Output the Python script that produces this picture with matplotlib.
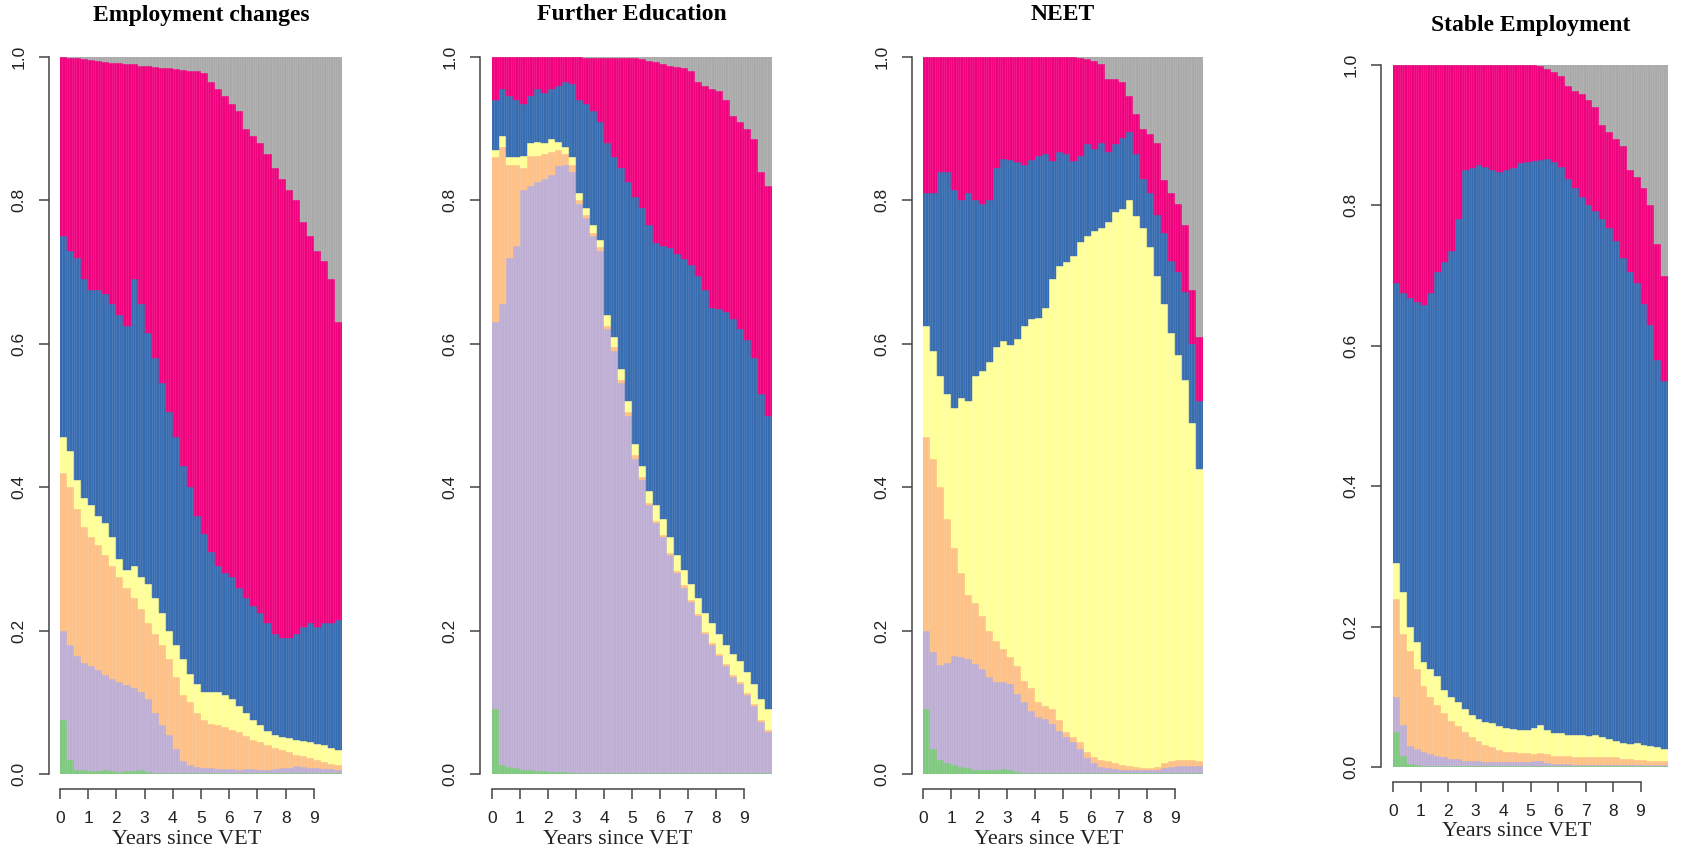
import numpy as np
import matplotlib.pyplot as plt

W, H = 1691, 852

# quarterly bins over the 10 years after VET
years = np.arange(40) * 0.25

states = ["green", "lavender", "peach", "yellow", "blue", "pink", "missing"]
state_colors = ["#7FC97F", "#BEAED4", "#FDC086", "#FFFF99", "#386CB0", "#F0027F", "#AAAAAA"]

# cumulative tops of each state (bottom to top)
# --- Employment changes ---
emp_green = [0.075, 0.02, 0.006, 0.005, 0.004, 0.004, 0.005, 0.004, 0.003, 0.004,
             0.004, 0.005, 0.003, 0.002, 0.001, 0.001, 0.001, 0.001, 0.001, 0.001,
             0.001, 0.001, 0.001, 0.001, 0.001, 0.001, 0.001, 0.001, 0.001, 0.001,
             0.001, 0.001, 0.001, 0.001, 0.001, 0.001, 0.001, 0.001, 0.001, 0.001]
emp_lav = [0.20, 0.18, 0.165, 0.155, 0.15, 0.145, 0.138, 0.132, 0.128, 0.124,
           0.12, 0.114, 0.105, 0.085, 0.068, 0.054, 0.035, 0.018, 0.012, 0.01,
           0.009, 0.008, 0.007, 0.007, 0.007, 0.006, 0.007, 0.007, 0.006, 0.006,
           0.007, 0.008, 0.009, 0.011, 0.01, 0.008, 0.008, 0.007, 0.007, 0.006]
emp_peach = [0.42, 0.40, 0.37, 0.345, 0.33, 0.32, 0.305, 0.29, 0.275, 0.26,
             0.245, 0.23, 0.21, 0.195, 0.18, 0.16, 0.135, 0.11, 0.10, 0.085,
             0.075, 0.07, 0.068, 0.065, 0.062, 0.058, 0.053, 0.048, 0.045, 0.04,
             0.036, 0.033, 0.03, 0.027, 0.025, 0.022, 0.02, 0.017, 0.014, 0.012]
emp_yellow = [0.47, 0.45, 0.41, 0.385, 0.375, 0.36, 0.35, 0.33, 0.30, 0.285,
              0.29, 0.275, 0.265, 0.245, 0.225, 0.20, 0.18, 0.16, 0.14, 0.125,
              0.115, 0.115, 0.115, 0.11, 0.105, 0.095, 0.085, 0.075, 0.068, 0.06,
              0.055, 0.052, 0.05, 0.048, 0.046, 0.044, 0.042, 0.04, 0.036, 0.033]
emp_blue = [0.75, 0.73, 0.72, 0.69, 0.675, 0.675, 0.67, 0.655, 0.64, 0.625,
            0.69, 0.655, 0.615, 0.58, 0.545, 0.505, 0.47, 0.43, 0.40, 0.36,
            0.335, 0.31, 0.29, 0.28, 0.275, 0.26, 0.245, 0.235, 0.225, 0.21,
            0.195, 0.19, 0.19, 0.195, 0.205, 0.21, 0.205, 0.21, 0.21, 0.215]
emp_pink = [1.0, 0.999, 0.998, 0.997, 0.996, 0.995, 0.993, 0.992, 0.991, 0.99,
            0.99, 0.988, 0.987, 0.986, 0.985, 0.984, 0.983, 0.982, 0.981, 0.98,
            0.978, 0.965, 0.955, 0.945, 0.935, 0.925, 0.90, 0.89, 0.88, 0.865,
            0.845, 0.83, 0.815, 0.80, 0.77, 0.75, 0.73, 0.715, 0.69, 0.63]

# --- Further Education ---
edu_green = [0.09, 0.012, 0.01, 0.008, 0.006, 0.005, 0.004, 0.004, 0.003, 0.003,
             0.003, 0.002, 0.002, 0.002, 0.002, 0.002, 0.001, 0.001, 0.001, 0.001,
             0.001, 0.001, 0.001, 0.001, 0.001, 0.001, 0.001, 0.001, 0.001, 0.001,
             0.001, 0.001, 0.001, 0.001, 0.001, 0.001, 0.001, 0.001, 0.001, 0.001]
edu_lav = [0.63, 0.655, 0.72, 0.737, 0.815, 0.82, 0.825, 0.83, 0.835, 0.848,
           0.85, 0.84, 0.795, 0.775, 0.75, 0.73, 0.62, 0.59, 0.545, 0.50,
           0.44, 0.41, 0.375, 0.35, 0.33, 0.305, 0.28, 0.26, 0.24, 0.22,
           0.195, 0.18, 0.165, 0.15, 0.135, 0.125, 0.11, 0.095, 0.072, 0.058]
edu_peach = [0.86, 0.875, 0.85, 0.85, 0.845, 0.862, 0.862, 0.865, 0.868, 0.87,
             0.865, 0.85, 0.80, 0.78, 0.755, 0.735, 0.625, 0.595, 0.55, 0.505,
             0.445, 0.414, 0.378, 0.353, 0.333, 0.308, 0.283, 0.263, 0.243, 0.223,
             0.198, 0.183, 0.168, 0.153, 0.138, 0.128, 0.113, 0.098, 0.075, 0.061]
edu_yellow = [0.87, 0.89, 0.86, 0.86, 0.862, 0.88, 0.882, 0.88, 0.885, 0.882,
              0.875, 0.86, 0.81, 0.79, 0.765, 0.745, 0.64, 0.61, 0.565, 0.52,
              0.46, 0.43, 0.395, 0.375, 0.355, 0.33, 0.305, 0.285, 0.265, 0.245,
              0.225, 0.21, 0.195, 0.18, 0.168, 0.158, 0.142, 0.125, 0.105, 0.09]
edu_blue = [0.94, 0.955, 0.945, 0.94, 0.935, 0.945, 0.955, 0.95, 0.955, 0.96,
            0.965, 0.962, 0.94, 0.935, 0.925, 0.91, 0.88, 0.86, 0.845, 0.825,
            0.805, 0.79, 0.765, 0.74, 0.737, 0.733, 0.725, 0.718, 0.71, 0.695,
            0.675, 0.65, 0.648, 0.645, 0.635, 0.62, 0.605, 0.58, 0.53, 0.50]
edu_pink = [1.0, 1.0, 1.0, 1.0, 1.0, 1.0, 1.0, 1.0, 1.0, 1.0,
            1.0, 1.0, 1.0, 0.999, 0.999, 0.999, 0.999, 0.999, 0.999, 0.999,
            0.998, 0.997, 0.995, 0.993, 0.99, 0.988, 0.986, 0.984, 0.98, 0.965,
            0.96, 0.955, 0.952, 0.94, 0.918, 0.91, 0.90, 0.886, 0.84, 0.82]

# --- NEET ---
neet_green = [0.09, 0.035, 0.02, 0.015, 0.012, 0.01, 0.008, 0.006, 0.005, 0.006,
              0.006, 0.007, 0.005, 0.003, 0.002, 0.002, 0.002, 0.002, 0.001, 0.001,
              0.001, 0.001, 0.001, 0.001, 0.001, 0.001, 0.001, 0.001, 0.001, 0.001,
              0.001, 0.001, 0.001, 0.001, 0.001, 0.001, 0.001, 0.001, 0.001, 0.001]
neet_lav = [0.20, 0.17, 0.152, 0.155, 0.165, 0.163, 0.16, 0.153, 0.146, 0.135,
            0.128, 0.128, 0.125, 0.112, 0.10, 0.088, 0.08, 0.077, 0.07, 0.06,
            0.052, 0.044, 0.035, 0.022, 0.016, 0.01, 0.008, 0.007, 0.006, 0.006,
            0.006, 0.006, 0.006, 0.006, 0.008, 0.01, 0.011, 0.011, 0.011, 0.011]
neet_peach = [0.47, 0.44, 0.40, 0.355, 0.315, 0.28, 0.25, 0.238, 0.22, 0.20,
              0.185, 0.175, 0.163, 0.15, 0.13, 0.12, 0.10, 0.095, 0.09, 0.075,
              0.058, 0.052, 0.045, 0.03, 0.024, 0.02, 0.018, 0.015, 0.012, 0.011,
              0.01, 0.009, 0.008, 0.01, 0.016, 0.018, 0.02, 0.02, 0.019, 0.018]
neet_yellow = [0.625, 0.59, 0.555, 0.53, 0.51, 0.525, 0.52, 0.555, 0.562, 0.575,
               0.595, 0.604, 0.598, 0.607, 0.625, 0.634, 0.636, 0.65, 0.69, 0.708,
               0.714, 0.722, 0.742, 0.75, 0.757, 0.762, 0.77, 0.784, 0.788, 0.80,
               0.778, 0.762, 0.735, 0.695, 0.655, 0.615, 0.585, 0.55, 0.49, 0.425]
neet_blue = [0.81, 0.81, 0.84, 0.84, 0.815, 0.80, 0.81, 0.80, 0.795, 0.80,
             0.845, 0.858, 0.856, 0.853, 0.85, 0.857, 0.862, 0.865, 0.855, 0.868,
             0.865, 0.855, 0.862, 0.878, 0.872, 0.88, 0.868, 0.878, 0.887, 0.895,
             0.865, 0.83, 0.81, 0.78, 0.755, 0.715, 0.70, 0.672, 0.60, 0.52]
neet_pink = [1.0, 1.0, 1.0, 1.0, 1.0, 1.0, 1.0, 1.0, 1.0, 1.0,
             1.0, 1.0, 1.0, 1.0, 1.0, 1.0, 1.0, 1.0, 1.0, 1.0,
             1.0, 1.0, 0.998, 0.997, 0.995, 0.99, 0.97, 0.97, 0.965, 0.945,
             0.92, 0.90, 0.892, 0.88, 0.828, 0.81, 0.795, 0.765, 0.675, 0.61]

# --- Stable Employment ---
stab_green = [0.05, 0.015, 0.004, 0.003, 0.002, 0.002, 0.002, 0.001, 0.001, 0.001,
              0.001, 0.001, 0.001, 0.001, 0.001, 0.001, 0.001, 0.001, 0.001, 0.001,
              0.001, 0.001, 0.001, 0.001, 0.001, 0.001, 0.001, 0.001, 0.001, 0.001,
              0.001, 0.001, 0.001, 0.001, 0.001, 0.001, 0.001, 0.001, 0.001, 0.001]
stab_lav = [0.10, 0.06, 0.03, 0.025, 0.021, 0.018, 0.016, 0.014, 0.012, 0.011,
            0.009, 0.008, 0.008, 0.007, 0.007, 0.007, 0.007, 0.007, 0.007, 0.007,
            0.009, 0.009, 0.006, 0.004, 0.004, 0.004, 0.003, 0.003, 0.003, 0.003,
            0.003, 0.003, 0.003, 0.003, 0.003, 0.003, 0.003, 0.003, 0.003, 0.003]
stab_peach = [0.24, 0.19, 0.165, 0.14, 0.115, 0.10, 0.088, 0.077, 0.066, 0.058,
              0.05, 0.043, 0.037, 0.032, 0.028, 0.024, 0.022, 0.021, 0.02, 0.02,
              0.019, 0.02, 0.018, 0.016, 0.015, 0.015, 0.014, 0.014, 0.014, 0.014,
              0.014, 0.014, 0.014, 0.012, 0.011, 0.01, 0.01, 0.009, 0.009, 0.008]
stab_yellow = [0.29, 0.25, 0.20, 0.178, 0.15, 0.14, 0.13, 0.11, 0.10, 0.093,
               0.082, 0.074, 0.068, 0.064, 0.062, 0.058, 0.056, 0.054, 0.053, 0.053,
               0.056, 0.06, 0.052, 0.049, 0.048, 0.046, 0.045, 0.045, 0.044, 0.045,
               0.043, 0.04, 0.037, 0.034, 0.033, 0.034, 0.032, 0.03, 0.028, 0.025]
stab_blue = [0.69, 0.675, 0.668, 0.662, 0.658, 0.675, 0.705, 0.72, 0.735, 0.78,
             0.85, 0.853, 0.857, 0.855, 0.85, 0.848, 0.85, 0.853, 0.86, 0.862,
             0.863, 0.864, 0.866, 0.862, 0.855, 0.838, 0.825, 0.812, 0.80, 0.792,
             0.78, 0.768, 0.75, 0.725, 0.705, 0.69, 0.66, 0.63, 0.58, 0.55]
stab_pink = [1.0, 1.0, 1.0, 1.0, 1.0, 1.0, 1.0, 1.0, 1.0, 1.0,
             1.0, 1.0, 1.0, 1.0, 1.0, 1.0, 1.0, 1.0, 1.0, 1.0,
             1.0, 0.998, 0.995, 0.99, 0.985, 0.97, 0.963, 0.958, 0.95, 0.94,
             0.915, 0.905, 0.895, 0.885, 0.85, 0.84, 0.825, 0.80, 0.745, 0.70]

titles = ["Employment changes", "Further Education", "NEET", "Stable Employment"]
panel_tops = [
    [emp_green, emp_lav, emp_peach, emp_yellow, emp_blue, emp_pink],
    [edu_green, edu_lav, edu_peach, edu_yellow, edu_blue, edu_pink],
    [neet_green, neet_lav, neet_peach, neet_yellow, neet_blue, neet_pink],
    [stab_green, stab_lav, stab_peach, stab_yellow, stab_blue, stab_pink],
]
x_ticks = list(range(10))
y_ticks = [0.0, 0.2, 0.4, 0.6, 0.8, 1.0]

# plot boxes in pixels: left, right, top, bottom ; plus title y, xlabel y, y-spine offset
boxes = [(60, 342, 57, 774), (492, 772, 57, 774), (923, 1203, 57, 774), (1393, 1668, 65, 767)]
title_y = [15, 15, 15, 25]
xlab_y = [839, 839, 839, 831]
yoff_px = [11, 12, 11, 12]
PT = 0.72  # points per pixel at dpi 100

fig = plt.figure(figsize=(W / 100, H / 100), dpi=100)
axcol = "#444444"

for i in range(4):
    l, r, t, b = boxes[i]
    ax = fig.add_axes([l / W, 1 - b / H, (r - l) / W, (b - t) / H])

    tops = [np.asarray(c, dtype=float) for c in panel_tops[i]] + [np.ones(len(years))]
    bottom = np.zeros(len(years))
    for top, col in zip(tops, state_colors):
        ax.bar(years, top - bottom, width=0.25, bottom=bottom, align="edge",
               color=col, edgecolor=col, linewidth=0.3)
        bottom = top
    # faint monthly stripes like the original bar borders
    ax.vlines(np.arange(1, 120) / 12, 0, 1, colors="white", alpha=0.13, linewidth=0.5)

    ax.set_xlim(0, 10)
    ax.set_ylim(0, 1)
    for s in ["top", "right"]:
        ax.spines[s].set_visible(False)
    ax.spines["left"].set_position(("outward", yoff_px[i] * PT))
    ax.spines["bottom"].set_position(("outward", 15 * PT))
    ax.spines["left"].set_bounds(0, 1)
    ax.spines["bottom"].set_bounds(0, 9)
    for s in ["left", "bottom"]:
        ax.spines[s].set_color(axcol)
        ax.spines[s].set_linewidth(1.1)

    ax.set_xticks(x_ticks)
    ax.set_xticklabels([str(v) for v in x_ticks], fontfamily="Liberation Sans")
    ax.set_yticks(y_ticks)
    ax.set_yticklabels([f"{v:.1f}" for v in y_ticks], fontfamily="Liberation Sans",
                       rotation=90, va="center")
    ax.tick_params(axis="both", length=7, width=1.1, color=axcol, labelsize=12.5,
                   labelcolor="#222222")
    ax.tick_params(axis="x", pad=9)
    ax.tick_params(axis="y", pad=9)

    fig.text((l + r) / 2 / W, 1 - title_y[i] / H, titles[i], ha="center", va="center",
             fontsize=17, fontweight="bold", fontfamily="Liberation Serif")
    xc = l + 4.5 * (r - l) / 10
    fig.text(xc / W, 1 - xlab_y[i] / H, "Years since VET", ha="center", va="center",
             fontsize=16, fontfamily="Liberation Serif", color="#222222")

fig.savefig("out.png", dpi=100)
